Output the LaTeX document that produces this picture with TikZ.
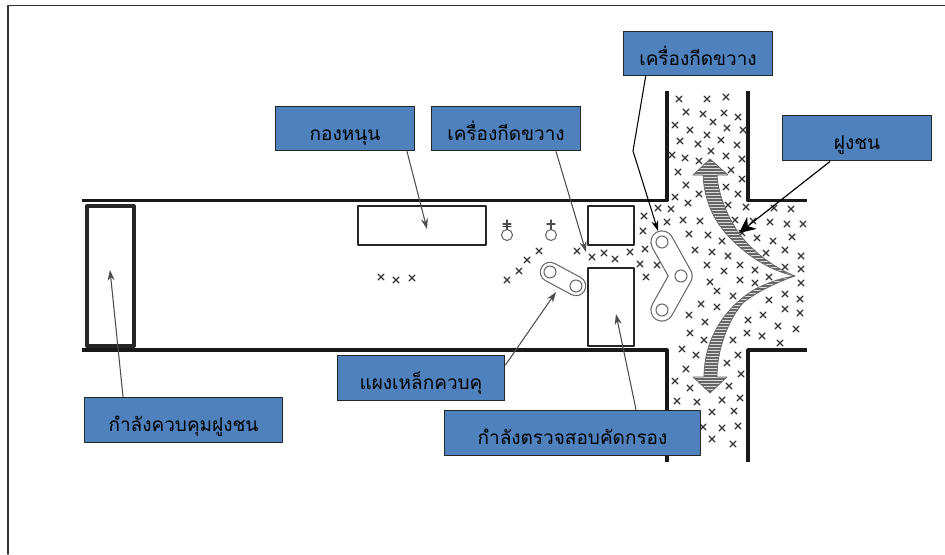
\documentclass[tikz,border=0pt]{standalone}
\usepackage{fontspec}
\usetikzlibrary{arrows.meta}
\newfontfamily\thaifont[Script=Thai]{Loma}
\definecolor{boxblue}{HTML}{4F81BD}
\tikzset{
  label box/.style={draw=black!85, line width=1.1pt, fill=boxblue, inner sep=0pt, text height=20pt, text depth=0pt, font=\thaifont\fontsize{16.2}{18}\selectfont},
  wall/.style={line width=2.6pt, line cap=butt, black!90},
  block/.style={draw=black!85, line width=2pt},
  pointer/.style={-{Stealth[length=9pt,width=6pt]}, line width=0.9pt, black!70},
  gate/.style={line join=round, line cap=round},
  ring/.style={draw=black!60, line width=0.9pt, fill=white},
  flow/.style={draw=black!60, line width=0.6pt},
}
\begin{document}
\begin{tikzpicture}[x=0.03cm, y=-0.03cm, line join=round, line cap=round, >=stealth]
\useasboundingbox (0,0) rectangle (945,554);
\draw[black!80, line width=1.4pt] (8,554) -- (8,5.5) -- (945,5.5);
% hallway and crossing walls
\draw[wall] (82,200.5) -- (667,200.5) -- (667,91);
\draw[wall] (748,91) -- (748,200.5) -- (807,200.5);
\draw[wall] (82,350) -- (667,350) -- (667,462);
\draw[wall] (748,462) -- (748,350) -- (807,350);
% blocks
\draw[block, line width=2.8pt] (87,206) rectangle (134,346);
\draw[block] (358,206) rectangle (486,245);
\draw[block] (588,206) rectangle (634,245);
\draw[block] (588,268) rectangle (634,346);
% crowd
\foreach \x/\y in {679/99,707/99,726/97,686/112,703/114,724/113,738/117,713/122,675/125,690/130,727/128,743/130,707/135,680/141,698/144,721/140,737/145,711/151,672/155,685/158,699/161,726/156,742/159,731/170,678/172,742/179,686/185,726/187,699/194,738/194,675/197,688/203,728/205,746/207,658/208,671/209,644/216,774/208,791/209,683/220,700/221,667/222,735/220,753/221,770/222,787/224,803/224,643/231,689/234,708/235,757/238,773/241,792/237,722/241,742/233,645/249,695/250,712/252,728/256,766/253,785/250,801/256,539/251,527/260,519/271,507/280,577/251,592/257,604/253,615/259,630/252,640/264,657/265,646/277,707/265,724/271,740/265,755/270,785/267,801/269,769/277,755/283,710/282,740/280,801/283,717/291,733/296,785/294,800/299,769/300,701/304,717/307,785/309,800/313,689/315,763/315,748/320,705/322,778/326,796/329,690/333,747/333,762/336,704/340,733/340,780/343,682/349,696/355,738/355,727/363,686/369,741/374,675/381,690/388,729/386,740/398,677/401,697/402,722/400,712/412,734/411,703/427,722/428,738/426,712/439,733/444,381/277,396/280,412/278}
\draw[shift={(\x,\y)}, black!80, line width=1.1pt] (-3,-3) -- (3,3) (-3,3) -- (3,-3);
% people
\foreach \x in {507,551} {
  \draw[ring] (\x,235) circle (5.5);
  \draw[black!70, line width=0.9pt] (\x,229.5) -- (\x,220) (\x-4,224) -- (\x+4,224);
}
\draw[black!80, line width=1pt] (503,226.5) -- (511,226.5);
% barriers
\draw[gate, black!60, line width=17.5pt] (550,272) -- (576,286);
\draw[gate, white, line width=15.5pt] (550,272) -- (576,286);
\draw[gate, black!60, line width=20pt] (662,242) -- (681,276) -- (662,310);
\draw[gate, white, line width=18pt] (662,242) -- (681,276) -- (662,310);
\foreach \x/\y in {550/272,576/286,662/242,681/276,662/310}
\draw[ring] (\x,\y) circle (6);
% crowd flow arrows
\begin{scope}
\clip (795,276) .. controls (765,270) and (735,247) .. (720,226) .. controls (710,212) and (704,195) .. (703,175) -- (693,175) -- (710,159) -- (728,175) -- (717,175) .. controls (718,190) and (724,212) .. (740,235) .. controls (752,250) and (772,267) .. (795,276);
\fill[black!15] (680,150) rectangle (800,280);
\foreach \y in {158,161,...,280}
\draw[black!60, line width=0.9pt, line cap=butt] (680,\y) -- (800,\y);
\end{scope}
\draw[flow] (795,276) .. controls (765,270) and (735,247) .. (720,226) .. controls (710,212) and (704,195) .. (703,175) -- (693,175) -- (710,159) -- (728,175) -- (717,175) .. controls (718,190) and (724,212) .. (740,235) .. controls (752,250) and (772,267) .. (795,276);
\begin{scope}
\clip (795,276) .. controls (780,278) and (768,283) .. (757,288) .. controls (735,300) and (704,330) .. (704,377) -- (693,377) -- (710,393) -- (727,377) -- (717,377) .. controls (717,350) and (728,320) .. (743,303) .. controls (755,293) and (775,283) .. (795,276);
\fill[black!15] (680,270) rectangle (800,400);
\foreach \y in {271,274,...,400}
\draw[black!60, line width=0.9pt, line cap=butt] (680,\y) -- (800,\y);
\end{scope}
\draw[flow] (795,276) .. controls (780,278) and (768,283) .. (757,288) .. controls (735,300) and (704,330) .. (704,377) -- (693,377) -- (710,393) -- (727,377) -- (717,377) .. controls (717,350) and (728,320) .. (743,303) .. controls (755,293) and (775,283) .. (795,276);
% labels
\node[label box, minimum width=127.5pt, minimum height=38pt] (barrierTop) at (698,53.5) {เครื่องกีดขวาง};
\node[label box, minimum width=127.5pt, minimum height=38pt] (barrierMid) at (506,128.5) {เครื่องกีดขวาง};
\node[label box, minimum width=119pt, minimum height=38pt] (reserve) at (345,128.5) {กองหนุน};
\node[label box, minimum width=127.5pt, minimum height=39pt] (crowd) at (857,138) {ฝูงชน};
\node[label box, minimum width=143pt, minimum height=39pt] (fence) at (421,378) {แผงเหล็กควบคุ};
\node[label box, minimum width=218pt, minimum height=39pt] (screen) at (572.5,433) {กำลังตรวจสอบคัดกรอง};
\node[label box, minimum width=169pt, minimum height=39pt] (control) at (183.5,420) {กำลังควบคุมฝูงชน};
% targets of the pointers
\coordinate (bend) at (633,151);
\coordinate (barrierTip) at (658,231);
\coordinate (barrierMidTip) at (586,252);
\coordinate (reserveTip) at (427,229);
\coordinate (crowdTip) at (739,233);
\coordinate (fenceTip) at (556,292);
\coordinate (screenTip) at (616,314);
\coordinate (controlTip) at (110,270);
\draw[pointer, black] (barrierTop.south west) ++(23,0) -- (bend) -- (barrierTip);
\draw[pointer] (barrierMid.south) ++(50,0) -- (barrierMidTip);
\draw[pointer] (reserve.south) ++(62,0) -- (reserveTip);
\draw[-{Stealth[length=14pt,width=13pt]}, black, line width=1pt] (crowd.south) ++(-27,0) -- (crowdTip);
\draw[pointer] (fence.east) ++(0,-13) -- (fenceTip);
\draw[pointer] (screen.north) ++(63.5,0) -- (screenTip);
\draw[pointer] (control.north) ++(-60.5,0) -- (controlTip);
\end{tikzpicture}
\end{document}
